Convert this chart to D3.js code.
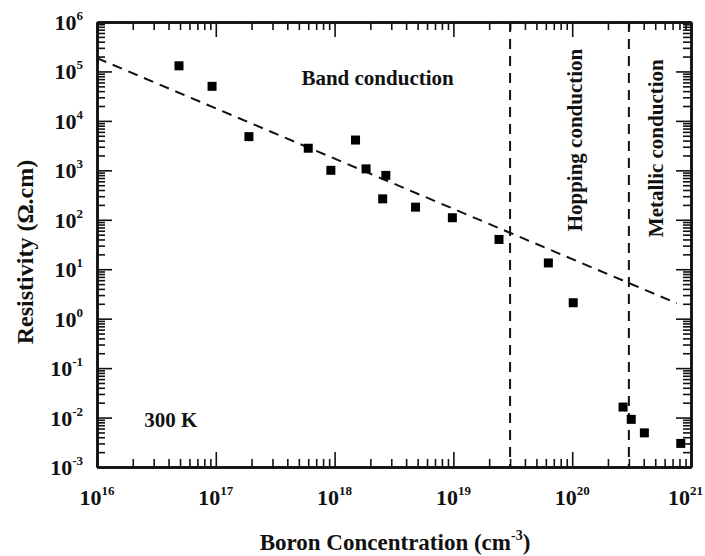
<!DOCTYPE html>
<html lang="en">
<head>
    <meta charset="utf-8">
    <title>Resistivity vs Boron Concentration</title>
    <script src="https://cdn.jsdelivr.net/npm/d3@7"></script>
    <style>
        body { margin: 0; background: white; }
        text { font-family: "Liberation Serif", "Times New Roman", serif; font-weight: bold; fill: #111; }
        .axis path, .axis line { stroke: #111; }
        .axis path { stroke-width: 2.5; }
        .axis line { stroke-width: 1.6; }
    </style>
</head>
<body>
<div id="chart"></div>
<script>
    // measured points (cm^-3, ohm.cm)
    const conc = [4.9e16, 9.3e16, 1.9e17, 6.0e17, 9.3e17, 1.5e18, 1.84e18, 2.7e18, 2.54e18,
        4.8e18, 9.8e18, 2.42e19, 6.3e19, 1.02e20, 2.68e20, 3.14e20, 4.05e20, 8.2e20];
    const rho = [1.3e5, 5.0e4, 4.8e3, 2.8e3, 1.0e3, 4.1e3, 1.07e3, 7.9e2, 2.65e2,
        1.8e2, 1.1e2, 40, 13.4, 2.1, 0.0163, 0.0092, 0.0049, 0.0030];

    // dashed fit line end points
    const fitConc = [1e16, 7.6e20];
    const fitRho = [1.86e5, 2.04];

    // regime boundaries
    const boundaries = [3e19, 3e20];

    const xTicks = [1e16, 1e17, 1e18, 1e19, 1e20, 1e21];
    const yTicks = [1e-3, 1e-2, 1e-1, 1e0, 1e1, 1e2, 1e3, 1e4, 1e5, 1e6];

    const margin = { top: 22, right: 14, bottom: 89, left: 97 },
        width = 705 - margin.left - margin.right,
        height = 556 - margin.top - margin.bottom;

    const svg = d3.select("#chart").append("svg")
        .attr("width", 705)
        .attr("height", 556);

    const g = svg.append("g")
        .attr("transform", "translate(" + margin.left + "," + margin.top + ")");

    const x = d3.scaleLog().domain([1e16, 1e21]).range([0, width]);
    const y = d3.scaleLog().domain([1e-3, 1e6]).range([height, 0]);

    // minor ticks 2..9 in every decade
    const minors = (majors) => {
        const out = [];
        majors.slice(0, -1).forEach((m) => {
            for (let k = 2; k <= 9; k++) out.push(m * k);
        });
        return out;
    };
    const xMinor = minors(xTicks), yMinor = minors(yTicks);

    // axes with inward ticks on all four sides
    const addAxis = (axis, tr) => {
        g.append("g").attr("class", "axis").attr("transform", tr).call(axis)
            .call((s) => s.select(".domain").attr("stroke-width", 2.5));
    };
    addAxis(d3.axisBottom(x).tickValues(xMinor).tickSize(-8).tickFormat("").tickSizeOuter(0), "translate(0," + height + ")");
    addAxis(d3.axisBottom(x).tickValues(xTicks).tickSize(-15).tickFormat("").tickSizeOuter(0), "translate(0," + height + ")");
    addAxis(d3.axisTop(x).tickValues(xMinor).tickSize(-8).tickFormat("").tickSizeOuter(0), "translate(0,0)");
    addAxis(d3.axisTop(x).tickValues(xTicks).tickSize(-15).tickFormat("").tickSizeOuter(0), "translate(0,0)");
    addAxis(d3.axisLeft(y).tickValues(yMinor).tickSize(-8).tickFormat("").tickSizeOuter(0), "translate(0,0)");
    addAxis(d3.axisLeft(y).tickValues(yTicks).tickSize(-15).tickFormat("").tickSizeOuter(0), "translate(0,0)");
    addAxis(d3.axisRight(y).tickValues(yMinor).tickSize(-8).tickFormat("").tickSizeOuter(0), "translate(" + width + ",0)");
    addAxis(d3.axisRight(y).tickValues(yTicks).tickSize(-15).tickFormat("").tickSizeOuter(0), "translate(" + width + ",0)");

    // tick labels as 10 with superscript exponent
    const expo = (v) => Math.round(Math.log10(v));
    const last = xTicks[xTicks.length - 1];

    // last label pulled in so it stays on the page
    const xl = g.selectAll(".xlab").data(xTicks).enter().append("text")
        .attr("class", "xlab")
        .attr("x", (d) => d === last ? width + 12 : x(d))
        .attr("y", height + 38)
        .attr("text-anchor", (d) => d === last ? "end" : "middle")
        .style("font-size", "22px");
    xl.append("tspan").text("10");
    xl.append("tspan").attr("dy", -10).style("font-size", "13px").text((d) => expo(d));

    const yl = g.selectAll(".ylab").data(yTicks).enter().append("text")
        .attr("class", "ylab")
        .attr("x", -14)
        .attr("y", (d) => y(d) + 8)
        .attr("text-anchor", "end")
        .style("font-size", "22px");
    yl.append("tspan").text("10");
    yl.append("tspan").attr("dy", -10).style("font-size", "13px").text((d) => expo(d));

    // dashed fit
    g.append("line")
        .attr("x1", x(fitConc[0])).attr("y1", y(fitRho[0]))
        .attr("x2", x(fitConc[1])).attr("y2", y(fitRho[1]))
        .attr("stroke", "#111").attr("stroke-width", 2)
        .attr("stroke-dasharray", "10,7");

    // regime boundaries
    g.selectAll(".bound").data(boundaries).enter().append("line")
        .attr("class", "bound")
        .attr("x1", (d) => x(d)).attr("x2", (d) => x(d))
        .attr("y1", 0).attr("y2", height)
        .attr("stroke", "#111").attr("stroke-width", 2)
        .attr("stroke-dasharray", "10,7");

    // data squares
    const sz = 9;
    g.selectAll(".pt").data(d3.zip(conc, rho)).enter().append("rect")
        .attr("class", "pt")
        .attr("x", (d) => x(d[0]) - sz / 2)
        .attr("y", (d) => y(d[1]) - sz / 2)
        .attr("width", sz).attr("height", sz)
        .attr("fill", "#000");

    // region annotations
    g.append("text")
        .attr("x", x(2.3e18)).attr("y", y(5.3e4))
        .attr("text-anchor", "middle")
        .style("font-size", "21px")
        .text("Band conduction");

    g.append("text")
        .attr("transform", "translate(" + x(1.2e20) + "," + y(4.1e3) + ") rotate(-90)")
        .attr("text-anchor", "middle")
        .style("font-size", "21px")
        .text("Hopping conduction");

    g.append("text")
        .attr("transform", "translate(" + x(5.8e20) + "," + y(2.8e3) + ") rotate(-90)")
        .attr("text-anchor", "middle")
        .style("font-size", "21px")
        .text("Metallic conduction");

    g.append("text")
        .attr("x", x(2.5e16)).attr("y", y(6.3e-3))
        .style("font-size", "21px")
        .text("300 K");

    // axis titles
    const xt = svg.append("text")
        .attr("x", 395).attr("y", 550)
        .attr("text-anchor", "middle")
        .style("font-size", "23px");
    xt.append("tspan").text("Boron Concentration (cm");
    xt.append("tspan").attr("dy", -10).style("font-size", "14px").text("-3");
    xt.append("tspan").attr("dy", 10).text(")");

    svg.append("text")
        .attr("transform", "translate(33,252) rotate(-90)")
        .attr("text-anchor", "middle")
        .style("font-size", "24px")
        .text("Resistivity (\u03A9.cm)");
</script>
</body>
</html>
